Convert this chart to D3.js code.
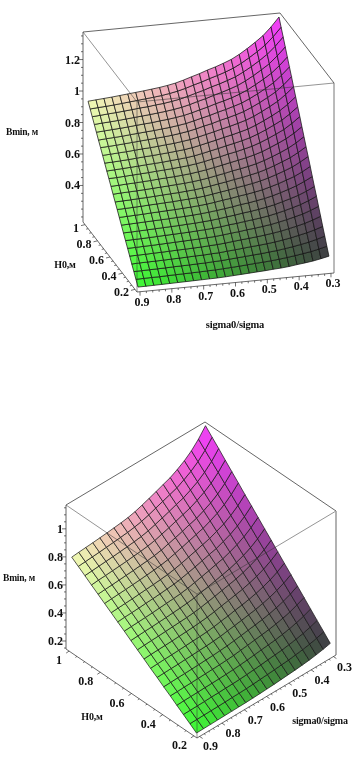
<!DOCTYPE html>
<html><head><meta charset="utf-8">
<style>html,body{margin:0;padding:0;background:#fff}svg{display:block;filter:blur(.3px)}</style>
<script src="https://cdn.jsdelivr.net/npm/d3@7"></script>
</head><body><svg id="c" width="357" height="769"></svg>
<script>
const sigmaValuesTop=[.9,.875,.85,.825,.8,.775,.75,.725,.7,.675,.65,.625,.6,.575,.55,.525,.5,.475,.45,.425,.4,.375,.35,.325,.3];
const h0ValuesTop=[.2,.2333,.2667,.3,.3333,.3667,.4,.4333,.4667,.5,.5333,.5667,.6,.6333,.6667,.7,.7333,.7667,.8,.8333,.8667,.9,.9333,.9667,1];
const sigmaValuesBottom=[.9,.8684,.8368,.8053,.7737,.7421,.7105,.6789,.6474,.6158,.5842,.5526,.5211,.4895,.4579,.4263,.3947,.3632,.3316,.3];
const h0ValuesBottom=[.2,.2421,.2842,.3263,.3684,.4105,.4526,.4947,.5368,.5789,.6211,.6632,.7053,.7474,.7895,.8316,.8737,.9158,.9579,1];
const sigmaTicks=[.9,.8,.7,.6,.5,.4,.3];
const h0Ticks=[.2,.4,.6,.8,1];
const bminTicksTop=[.4,.6,.8,1,1.2];
const bminTicksBottom=[.2,.4,.6,.8,1];
const bminTop=[
[.181,.181,.182,.183,.184,.185,.186,.187,.188,.189,.190,.192,.195,.198,.201,.204,.207,.211,.214,.219,.226,.232,.239,.249,.260],
[.213,.214,.215,.215,.217,.218,.219,.220,.221,.223,.224,.227,.230,.233,.237,.241,.244,.248,.253,.259,.266,.274,.282,.293,.306],
[.245,.246,.247,.248,.249,.251,.252,.253,.255,.256,.259,.261,.265,.269,.273,.277,.281,.286,.291,.298,.306,.315,.325,.338,.353],
[.276,.278,.279,.280,.281,.283,.284,.286,.288,.289,.292,.294,.299,.303,.308,.313,.317,.322,.328,.336,.345,.356,.367,.381,.398],
[.309,.310,.311,.313,.314,.316,.318,.319,.321,.323,.326,.329,.333,.339,.344,.349,.354,.360,.367,.375,.386,.397,.410,.426,.445],
[.341,.342,.344,.345,.347,.349,.351,.353,.355,.357,.360,.363,.368,.374,.379,.386,.391,.398,.405,.415,.426,.439,.452,.470,.491],
[.373,.375,.376,.378,.380,.382,.384,.386,.388,.391,.394,.398,.403,.410,.415,.422,.428,.435,.443,.454,.466,.480,.495,.515,.538],
[.405,.406,.408,.410,.412,.414,.416,.418,.421,.423,.427,.431,.437,.444,.450,.458,.464,.472,.481,.492,.506,.521,.537,.558,.583],
[.437,.439,.441,.443,.445,.447,.449,.452,.454,.457,.461,.466,.472,.479,.486,.495,.501,.510,.519,.531,.546,.562,.580,.603,.629],
[.469,.471,.473,.475,.478,.480,.483,.485,.488,.491,.495,.500,.507,.515,.522,.531,.538,.547,.557,.571,.586,.604,.622,.647,.676],
[.502,.504,.506,.508,.511,.513,.516,.518,.522,.525,.529,.534,.542,.550,.558,.568,.576,.585,.596,.610,.627,.645,.665,.692,.722],
[.533,.535,.537,.540,.542,.545,.548,.551,.554,.558,.562,.568,.576,.585,.593,.603,.611,.622,.633,.648,.666,.686,.707,.735,.767],
[.565,.568,.570,.572,.575,.578,.581,.584,.588,.591,.596,.602,.610,.620,.629,.640,.649,.659,.671,.687,.706,.727,.750,.779,.814],
[.598,.600,.603,.605,.608,.611,.615,.618,.621,.625,.630,.637,.645,.655,.665,.676,.686,.697,.710,.726,.747,.769,.793,.824,.860],
[.630,.632,.635,.638,.641,.644,.648,.651,.655,.659,.664,.671,.680,.691,.701,.713,.723,.735,.748,.766,.787,.810,.835,.869,.907],
[.661,.664,.667,.670,.673,.677,.680,.683,.688,.692,.697,.704,.714,.725,.736,.748,.759,.771,.785,.804,.826,.851,.877,.912,.952],
[.694,.696,.699,.702,.706,.710,.713,.717,.721,.726,.731,.739,.749,.761,.772,.785,.796,.809,.823,.843,.867,.892,.920,.956,.999],
[.726,.729,.732,.735,.739,.743,.746,.750,.755,.759,.766,.773,.784,.796,.808,.821,.833,.847,.862,.882,.907,.934,.963,1.001,1.045],
[.758,.761,.764,.768,.772,.776,.780,.784,.788,.793,.800,.808,.819,.832,.843,.858,.870,.884,.900,.922,.947,.975,1.005,1.045,1.092],
[.789,.793,.796,.799,.804,.808,.812,.816,.821,.826,.833,.841,.853,.866,.878,.893,.906,.921,.937,.960,.986,1.015,1.047,1.089,1.137],
[.822,.825,.829,.832,.836,.841,.845,.849,.855,.860,.867,.875,.887,.901,.914,.930,.943,.958,.976,.999,1.027,1.057,1.090,1.133,1.183],
[.854,.858,.861,.865,.869,.874,.878,.883,.888,.894,.901,.910,.922,.937,.950,.966,.980,.996,1.014,1.038,1.067,1.099,1.133,1.178,1.230],
[.886,.890,.894,.898,.902,.907,.912,.916,.922,.927,.935,.944,.957,.972,.986,1.003,1.017,1.034,1.052,1.078,1.107,1.140,1.176,1.222,1.276],
[.918,.922,.925,.929,.934,.939,.944,.949,.954,.960,.968,.978,.991,1.007,1.021,1.038,1.053,1.070,1.090,1.116,1.147,1.180,1.217,1.265,1.321],
[.950,.954,.958,.962,.967,.972,.977,.982,.988,.994,1.002,1.012,1.026,1.042,1.057,1.075,1.090,1.108,1.128,1.155,1.187,1.222,1.260,1.310,1.368]];
const bminBottom=[
[.152,.153,.154,.155,.156,.157,.158,.159,.161,.163,.166,.169,.173,.177,.181,.186,.192,.200,.210,.222],
[.187,.188,.189,.190,.191,.192,.194,.195,.197,.200,.204,.208,.212,.217,.221,.228,.235,.245,.257,.273],
[.221,.222,.223,.224,.226,.227,.229,.230,.232,.236,.240,.245,.251,.256,.261,.269,.278,.289,.304,.322],
[.255,.257,.258,.259,.261,.262,.264,.266,.269,.273,.278,.284,.290,.296,.302,.311,.321,.334,.351,.372],
[.290,.291,.293,.294,.296,.298,.300,.302,.305,.309,.316,.322,.329,.336,.343,.353,.365,.379,.399,.422],
[.323,.325,.327,.328,.330,.332,.335,.337,.341,.345,.352,.359,.367,.375,.383,.394,.407,.424,.445,.472],
[.358,.360,.362,.363,.366,.368,.371,.373,.377,.382,.390,.398,.406,.415,.424,.436,.450,.469,.492,.522],
[.391,.394,.396,.398,.400,.403,.406,.408,.412,.418,.427,.435,.445,.454,.464,.477,.493,.513,.539,.571],
[.426,.429,.431,.433,.435,.438,.441,.444,.449,.455,.464,.474,.484,.494,.504,.519,.536,.558,.586,.621],
[.460,.463,.466,.468,.471,.474,.477,.480,.485,.492,.502,.512,.523,.534,.545,.561,.580,.603,.634,.672],
[.494,.497,.500,.502,.505,.508,.512,.516,.521,.528,.538,.549,.561,.573,.585,.602,.622,.647,.680,.721],
[.529,.532,.534,.537,.540,.544,.548,.552,.557,.565,.576,.588,.600,.614,.626,.644,.666,.693,.728,.771],
[.563,.567,.569,.572,.576,.579,.583,.588,.593,.602,.614,.626,.640,.654,.667,.687,.709,.738,.775,.821],
[.597,.600,.603,.606,.610,.614,.618,.623,.629,.638,.650,.664,.678,.693,.707,.728,.751,.782,.821,.870],
[.631,.635,.638,.641,.645,.649,.654,.659,.665,.674,.688,.702,.717,.733,.748,.770,.795,.827,.869,.921],
[.665,.669,.672,.676,.680,.684,.689,.694,.701,.710,.725,.739,.755,.772,.788,.811,.837,.871,.915,.970],
[.699,.704,.707,.711,.715,.719,.725,.730,.737,.747,.762,.778,.794,.812,.828,.853,.881,.916,.963,1.020],
[.734,.738,.742,.746,.750,.755,.760,.766,.773,.784,.800,.816,.834,.852,.869,.895,.924,.962,1.010,1.071],
[.768,.772,.776,.780,.785,.790,.795,.801,.809,.820,.836,.854,.872,.891,.909,.936,.967,1.006,1.057,1.120],
[.802,.807,.811,.815,.820,.825,.831,.837,.845,.857,.874,.892,.911,.931,.950,.978,1.010,1.051,1.104,1.170]];

const svg=d3.select("#c");
const FONT="'Liberation Serif','Times New Roman',serif";

function draw(o){
  const g=svg.append("g");
  const sX=d3.scaleLinear().domain(o.sDomain).range([0,o.right[0]-o.front[0]]);
  const sY=d3.scaleLinear().domain(o.sDomain).range([0,o.right[1]-o.front[1]]);
  const hX=d3.scaleLinear().domain(o.hDomain).range([0,o.left[0]-o.front[0]]);
  const hY=d3.scaleLinear().domain(o.hDomain).range([0,o.left[1]-o.front[1]]);
  const zY=d3.scaleLinear().domain(o.zDomain).range([0,-o.height]);
  const zMin=o.zDomain[0];
  const P=(s,h,z)=>[o.front[0]+sX(s)+hX(h),o.front[1]+sY(s)+hY(h)+zY(z)];
  const red=d3.scaleLinear().domain([.2,1]).range([60,242]);
  const green=d3.scaleLinear().domain([.9,.3]).range([250,62]);
  const blue=d3.scaleLinear().domain(o.blueDomain).range([52,252]);
  const sA=o.sDomain[0],sB=o.sDomain[1],hA=o.hDomain[0],hB=o.hDomain[1],zB=o.zDomain[1];
  const seg=(a,b)=>`M${a[0]},${a[1]}L${b[0]},${b[1]}`;
  const box=(d,c,w)=>g.append("path").attr("d",d).attr("fill","none").attr("stroke",c).attr("stroke-width",w);

  box(seg(P(sA,hB,zB),P(sB,hB,zB))+seg(P(sB,hB,zB),P(sB,hA,zB)),"#555",.9);

  const cells=[];
  for(let i=0;i<o.h.length-1;i++)for(let j=0;j<o.s.length-1;j++)cells.push({i,j});
  const line=d3.line();
  g.append("g").selectAll("path").data(cells).join("path")
    .attr("d",({i,j})=>line([[i,j],[i,j+1],[i+1,j+1],[i+1,j]].map(([a,b])=>P(o.s[b],o.h[a],o.z[a][b])))+"Z")
    .attr("fill",({i,j})=>{
      const s=(o.s[j]+o.s[j+1])/2,h=(o.h[i]+o.h[i+1])/2;
      const z=(o.z[i][j]+o.z[i+1][j]+o.z[i][j+1]+o.z[i+1][j+1])/4;
      return d3.rgb(red(h),green(s),blue(z)).formatHex();
    })
    .attr("stroke","#141414").attr("stroke-width",o.grid).attr("stroke-linejoin","round");

  box(seg(P(sA,hA,zB),P(sA,hB,zB))+seg(P(sA,hA,zB),P(sB,hA,zB))+seg(P(sA,hA,zMin),P(sA,hA,zB)),"#333",.7).attr("opacity",.75);
  box(seg(P(sA,hB,zMin),P(sA,hB,zB)),"#555",.9);
  box(seg(P(sB,hA,zMin),P(sB,hA,zB)),o.rightColor,o.rightWidth);
  box(seg(P(sA,hA,zMin),P(sA,hB,zMin))+seg(P(sA,hA,zMin),P(sB,hA,zMin)),"#444",.8);

  const tick=(a,dx,dy,w)=>g.append("path").attr("d",seg(a,[a[0]+dx,a[1]+dy])).attr("stroke","#333").attr("stroke-width",w);
  zY.ticks(25).forEach(v=>tick(P(sA,hB,v),o.zLen*(o.zMajor.some(m=>Math.abs(m-v)<1e-6)?1:.5)*-1,0,.7));
  sX.ticks(30).forEach(v=>{const M=sigmaTicks.some(m=>Math.abs(m-v)<1e-6);tick(P(v,hA,zMin),M?o.sTick[0]:o.sTick[0]/2,M?o.sTick[1]:o.sTick[1]/2,.7);});
  hX.ticks(16).forEach(v=>{const M=h0Ticks.some(m=>Math.abs(m-v)<1e-6);tick(P(sA,v,zMin),M?o.hTick[0]:o.hTick[0]/2,M?o.hTick[1]:o.hTick[1]/2,.7);});

  const label=(x,y,t,a,size)=>g.append("text").attr("x",x).attr("y",y).attr("text-anchor",a)
    .attr("dominant-baseline","central").attr("font-family",FONT).attr("font-weight","bold")
    .attr("font-size",size).attr("fill","#111").text(t);
  o.zMajor.forEach(v=>{const p=P(sA,hB,v);label(p[0]-o.zGap,p[1],String(v),"end",12);});
  sigmaTicks.forEach(v=>{const p=P(v,hA,zMin);label(p[0]+o.sOff[0],p[1]+o.sOff[1],String(v),"middle",12);});
  h0Ticks.forEach(v=>{const p=P(sA,v,zMin);label(p[0]+o.hOff[0],p[1]+o.hOff[1],String(v),"end",12);});
  o.titles.forEach(t=>label(t[0],t[1],t[2],"middle",t[3]).attr("letter-spacing",t[4]));
}

draw({z:bminTop,s:sigmaValuesTop,h:h0ValuesTop,sDomain:[.9095,.2905],hDomain:[.1675,1.0325],zDomain:[.168,1.375],blueDomain:[.18,1.37],
  front:[137,292],right:[334,273],left:[83,222],height:190,
  zMajor:bminTicksTop,zLen:4,zGap:3,sTick:[0,4],hTick:[-4,1],sOff:[2,10],hOff:[-6,3],grid:.75,rightColor:"#666",rightWidth:.9,
  titles:[[22,132,"Bmin, м",9.5,"-.2px"],[65,264,"H0,м",10,"-.2px"],[235,324,"sigma0/sigma",10.5,"-.2px"]]});
draw({z:bminBottom,s:sigmaValuesBottom,h:h0ValuesBottom,sDomain:[.9117,.2883],hDomain:[.18,1.02],zDomain:[.143,1.17],blueDomain:[.15,1.17],
  front:[197,738],right:[336,655],left:[66,649],height:144,
  zMajor:bminTicksBottom,zLen:4,zGap:3,sTick:[3,2],hTick:[-3,2],sOff:[11,10],hOff:[-7,9],grid:.7,rightColor:"#aaa",rightWidth:1.8,
  titles:[[19,578,"Bmin, м",9.5,"-.2px"],[92,716,"H0,м",10,"-.2px"],[320,720,"sigma0/sigma",10,"-.2px"]]});
</script></body></html>
